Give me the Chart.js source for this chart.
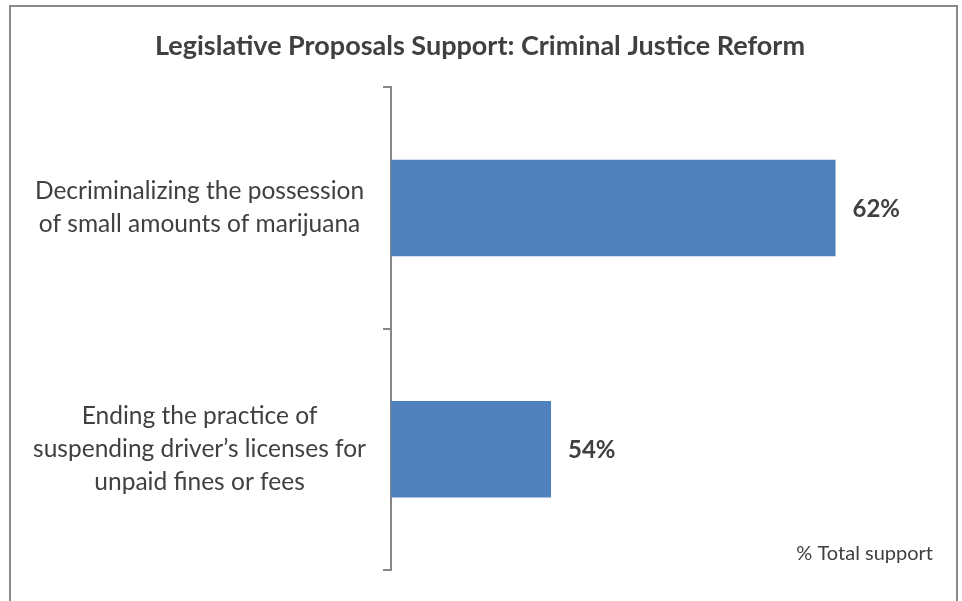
<!DOCTYPE html>
<html>
<head>
<meta charset="utf-8">
<script src="https://cdn.jsdelivr.net/npm/chart.js@4"></script>
<style>
  html, body { margin: 0; padding: 0; background: #fff; }
  #wrap { position: relative; width: 962px; height: 601px; overflow: hidden; }
  #frame { position: absolute; left: 9px; top: 5px; width: 945px; height: 640px; border: 2px solid #8a8a8a; }
  #c { position: absolute; left: 0; top: 0; }
</style>
</head>
<body>
<div id="wrap">
  <div id="frame"></div>
  <canvas id="c" width="962" height="601"></canvas>
</div>
<script>
var proposals = [
  ["Decriminalizing the possession", "of small amounts of marijuana"],
  ["Ending the practice of", "suspending driver\u2019s licenses for", "unpaid fines or fees"]
]
var support = [62, 54]
var note = "% Total support"

// percent labels just past the end of each bar, plus the footnote
var valueLabels = {
  id: 'valueLabels',
  afterDatasetsDraw: function (chart) {
    var ctx = chart.ctx
    var meta = chart.getDatasetMeta(0)
    ctx.save()
    ctx.fillStyle = '#404040'
    ctx.font = 'bold 24px Lato'
    ctx.textAlign = 'left'
    ctx.textBaseline = 'middle'
    meta.data.forEach(function (bar, i) {
      ctx.fillText(support[i] + '%', bar.x + 17, bar.y + 1)
    })
    ctx.font = '20px Lato'
    ctx.textAlign = 'right'
    ctx.fillText(note, 933, 554)
    ctx.restore()
  }
}

var ctx = document.getElementById("c")
var chart = new Chart(ctx, {
  type: 'bar',
  data: {
    labels: proposals,
    datasets: [{
      data: support,
      backgroundColor: '#4f81bd',
      borderWidth: 0,
      barPercentage: 0.4,
      categoryPercentage: 1
    }]
  },
  options: {
    indexAxis: 'y',
    responsive: false,
    animation: false,
    layout: { padding: { left: 0, right: 2, top: 0, bottom: 31 } },
    plugins: {
      legend: { display: false },
      tooltip: { enabled: false },
      title: {
        display: true,
        text: 'Legislative Proposals Support: Criminal Justice Reform',
        color: '#404040',
        font: { family: 'Lato', size: 27, weight: 'bold' },
        padding: { top: 30, bottom: 25 }
      }
    },
    scales: {
      x: {
        display: false,
        min: 49.5,
        max: 65.5
      },
      y: {
        // fixed label column; labels sit inside their bands so no extra edge room
        afterFit: function (scale) {
          scale.width = 391
          scale.paddingTop = 0
          scale.paddingBottom = 0
        },
        border: { color: '#868686', width: 2 },
        grid: { drawOnChartArea: false, tickLength: 8, color: '#868686', lineWidth: 2, offset: true },
        ticks: {
          color: '#404040',
          crossAlign: 'center',
          padding: 17,
          font: { family: 'Lato', size: 24.5, lineHeight: 1.35 }
        }
      }
    }
  },
  plugins: [valueLabels]
})
</script>
</body>
</html>
